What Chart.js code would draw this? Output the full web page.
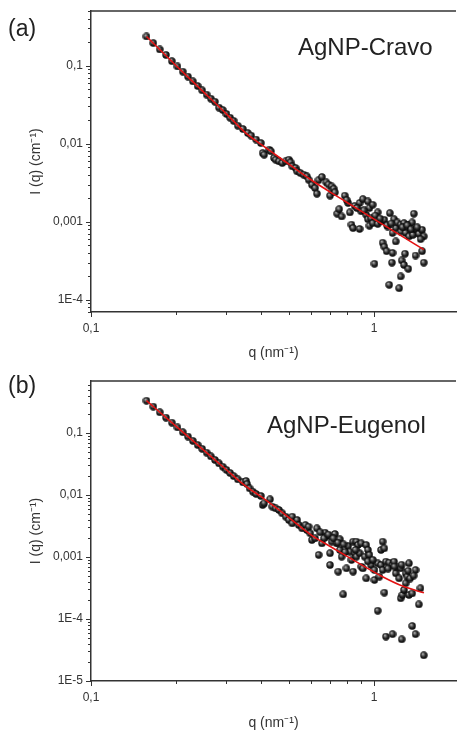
<!DOCTYPE html>
<html>
<head>
<meta charset="utf-8">
<title>AgNP SAXS curves</title>
<script src="https://cdn.jsdelivr.net/npm/chart.js@4.4.1/dist/chart.umd.min.js"></script>
<style>
    html, body { margin: 0; padding: 0; background: #fff; overflow: hidden; }
    .panel { position: relative; width: 461px; height: 365px; }
    canvas { display: block; }
</style>
</head>
<body>
<div class="panel"><canvas id="chartA" width="461" height="365"></canvas></div>
<div class="panel"><canvas id="chartB" width="461" height="365"></canvas></div>
<script>
// ---- data ----

// x axis ticks (both panels)
const xTickValues = [0.1, 1];
const xTickLabels = ["0,1", "1"];

// y axis ticks
const yTickValuesA = [0.1, 0.01, 0.001, 1e-4];
const yTickLabelsA = ["0,1", "0,01", "0,001", "1E-4"];
const yTickValuesB = [0.1, 0.01, 0.001, 1e-4, 1e-5];
const yTickLabelsB = ["0,1", "0,01", "0,001", "1E-4", "1E-5"];

// (a) AgNP-Cravo : measured points
const qA = [
    0.157, 0.166, 0.175, 0.184, 0.193, 0.202, 0.211, 0.220, 0.229, 0.238,
    0.247, 0.256, 0.265, 0.274, 0.283, 0.292, 0.301, 0.310, 0.319,
    0.330, 0.344, 0.358, 0.368, 0.383, 0.398, 0.404, 0.409, 0.426, 0.432,
    0.443, 0.449, 0.461, 0.474, 0.487, 0.500, 0.507, 0.514, 0.528, 0.535,
    0.549, 0.564, 0.579, 0.587, 0.603, 0.619,
    0.628, 0.636, 0.654, 0.678, 0.690, 0.699, 0.708, 0.713, 0.720, 0.727,
    0.741, 0.753, 0.768, 0.788, 0.810, 0.821, 0.832, 0.843, 0.854, 0.889,
    0.889, 0.901, 0.913, 0.938, 0.951, 0.951, 0.963, 0.963, 0.976, 0.989,
    0.989, 1.003, 1.030, 1.030, 1.058, 1.072, 1.087, 1.087, 1.107, 1.116,
    1.131, 1.137, 1.156, 1.162, 1.162, 1.177, 1.193, 1.193, 1.209, 1.226,
    1.242, 1.242, 1.242, 1.252, 1.276, 1.276, 1.286, 1.293, 1.293, 1.321,
    1.328, 1.328, 1.364, 1.371, 1.382, 1.401, 1.401, 1.439, 1.478, 1.478,
    1.498, 1.498,
    0.800, 0.870, 0.920, 1.010, 1.050, 1.110, 1.150, 1.260, 1.310, 1.350,
    1.420, 1.460
];
const intensityA = [
    0.236, 0.194, 0.161, 0.137, 0.114, 0.0975, 0.0836, 0.0723, 0.0628, 0.0548,
    0.0482, 0.0425, 0.0377, 0.0345, 0.0290, 0.0270, 0.0240, 0.0215, 0.0196,
    0.0170, 0.0154, 0.0137, 0.0127, 0.0113, 0.0102, 0.00759, 0.00723, 0.00838, 0.00798,
    0.00655, 0.00624, 0.00594, 0.00565, 0.00594, 0.00624, 0.00577, 0.00513, 0.00488, 0.00442,
    0.00421, 0.00401, 0.00381, 0.00346, 0.00298, 0.00270,
    0.00229, 0.00340, 0.00374, 0.00320, 0.00300, 0.00216, 0.00284, 0.00252, 0.00265, 0.00238,
    0.00127, 0.00145, 0.00117, 0.00216, 0.00174, 0.00132, 0.00092, 0.00083, 0.00160, 0.00174,
    0.00081, 0.00136, 0.00195, 0.00123, 0.00182, 0.00108, 0.00150, 0.00089, 0.00111, 0.00165,
    0.00096, 0.00029, 0.00132, 0.00094, 0.00101, 0.00054, 0.00106, 0.00048, 0.00042, 0.00087,
    0.000156, 0.00129, 0.00030, 0.00072, 0.00040, 0.00108, 0.00083, 0.00056, 0.00098, 0.000141,
    0.00092, 0.00075, 0.00020, 0.00032, 0.00096, 0.00028, 0.00039, 0.00083, 0.00072, 0.00025,
    0.00092, 0.00065, 0.00098, 0.00068, 0.00127, 0.00081, 0.00037, 0.00070, 0.00079, 0.00042,
    0.00065, 0.00030,
    0.00190, 0.00150, 0.00140, 0.00120, 0.00110, 0.00090, 0.00095, 0.00085, 0.00090, 0.00080,
    0.00085, 0.00060
];

// (a) fitted curve
const fitQA = [0.157, 0.2, 0.25, 0.3, 0.35, 0.4, 0.5, 0.6, 0.7, 0.8, 0.9, 1.0, 1.2, 1.5];
const fitIA = [0.236, 0.0995, 0.0458, 0.0243, 0.0140, 0.0097, 0.00547, 0.00343, 0.00240, 0.00178, 0.00137, 0.00108, 0.00072, 0.00044];

// (b) AgNP-Eugenol : measured points
const qB = [
    0.157, 0.166, 0.175, 0.184, 0.193, 0.202, 0.211, 0.220, 0.229, 0.238,
    0.247, 0.256, 0.265, 0.274, 0.283, 0.292, 0.301, 0.310, 0.319,
    0.330, 0.344, 0.353, 0.356, 0.363, 0.373, 0.383, 0.398, 0.404, 0.409,
    0.429, 0.437, 0.449, 0.461, 0.474, 0.487, 0.500, 0.514, 0.514, 0.535,
    0.542, 0.557, 0.572, 0.579, 0.587, 0.595, 0.603, 0.619,
    0.628, 0.637, 0.654, 0.671, 0.676, 0.699, 0.699, 0.708, 0.727, 0.737,
    0.747, 0.757, 0.757, 0.768, 0.778, 0.799, 0.810, 0.821, 0.832, 0.843,
    0.843, 0.854, 0.866, 0.866, 0.877, 0.889, 0.901, 0.901, 0.913, 0.926,
    0.938, 0.938, 0.951, 0.963, 0.976, 1.003, 1.003, 1.030, 1.030, 1.044,
    1.058, 1.058, 1.072, 1.072, 1.087, 1.087, 1.101, 1.101, 1.131, 1.162,
    1.162, 1.177, 1.193, 1.209, 1.226, 1.242, 1.242, 1.252, 1.259, 1.276,
    1.293, 1.293, 1.310, 1.328, 1.328, 1.364, 1.364, 1.401, 1.401, 1.439,
    1.458, 1.498,
    0.645, 0.665, 0.690, 0.718, 0.745, 0.780, 0.790, 0.860, 0.950, 0.990,
    1.120, 1.180, 1.250, 1.320, 1.340, 1.380
];
const intensityB = [
    0.332, 0.266, 0.216, 0.177, 0.147, 0.123, 0.103, 0.0877, 0.0748, 0.0643,
    0.0555, 0.0482, 0.0420, 0.0368, 0.0324, 0.0286, 0.0254, 0.0226, 0.0202,
    0.0179, 0.0160, 0.0168, 0.0150, 0.0128, 0.0113, 0.0104, 0.00964, 0.00689, 0.00733,
    0.00851, 0.00648, 0.00609, 0.00573, 0.00506, 0.00447, 0.00395, 0.00447, 0.00349, 0.00395,
    0.00328, 0.00290, 0.00328, 0.00272, 0.00308, 0.00241, 0.00188, 0.00200,
    0.00290, 0.00108, 0.00166, 0.00247, 0.00213, 0.00115, 0.000743, 0.00177, 0.00235, 0.00166,
    0.000580, 0.00193, 0.00130, 0.00101, 0.000250, 0.000656, 0.00150, 0.00122, 0.000895, 0.00177,
    0.000580, 0.00115, 0.00177, 0.00101, 0.00156, 0.00115, 0.00166, 0.000698, 0.000656, 0.00101,
    0.00156, 0.000453, 0.00130, 0.00108, 0.000743, 0.000617, 0.000426, 0.000791, 0.000136, 0.000482,
    0.000743, 0.00130, 0.00177, 0.000617, 0.00138, 0.000266, 0.000841, 0.000052, 0.000811, 0.000743,
    0.000057, 0.000841, 0.000545, 0.000698, 0.000453, 0.000656, 0.000216, 0.000047, 0.000244, 0.000294,
    0.000545, 0.000376, 0.000482, 0.000791, 0.000244, 0.000259, 0.000077, 0.000617, 0.000057, 0.000172,
    0.000313, 0.000026,
    0.00250, 0.00200, 0.00230, 0.00200, 0.00170, 0.00160, 0.00120, 0.00130, 0.00085, 0.00090,
    0.00065, 0.00070, 0.00075, 0.00060, 0.00045, 0.00050
];

// (b) fitted curve
const fitQB = [0.157, 0.2, 0.25, 0.3, 0.35, 0.4, 0.5, 0.6, 0.7, 0.82, 1.072, 1.259, 1.5];
const fitIB = [0.332, 0.128, 0.053, 0.0258, 0.0142, 0.0093, 0.00433, 0.00225, 0.00148, 0.00097, 0.00048, 0.00034, 0.000265];

// ---- drawing ----
const FONT = '"Liberation Sans", Arial, sans-serif';
const AXIS_COLOR = "#333";

// shaded black sphere used as the point marker
function makeBall(d) {
    const c = document.createElement("canvas");
    c.width = d;
    c.height = d;
    const g = c.getContext("2d");
    const r = d / 2;
    const grad = g.createRadialGradient(r * 0.7, r * 0.65, 0, r, r, r);
    grad.addColorStop(0, "#e6e6e6");
    grad.addColorStop(0.25, "#777");
    grad.addColorStop(0.6, "#222");
    grad.addColorStop(1, "#000");
    g.fillStyle = grad;
    g.beginPath();
    g.arc(r, r, r - 0.3, 0, Math.PI * 2);
    g.fill();
    return c;
}

const isPow10 = v => Math.abs(Math.log10(v) - Math.round(Math.log10(v))) < 1e-9;

// frame line on top, major/minor tick marks, panel letter and sample name
const panelDecor = {
    id: "panelDecor",
    afterDraw(chart, args, opts) {
        const { ctx, chartArea } = chart;
        const xs = chart.scales.x;
        const ys = chart.scales.y;
        ctx.save();
        ctx.strokeStyle = AXIS_COLOR;
        ctx.lineWidth = 1.5;
        ctx.beginPath();
        ctx.moveTo(chartArea.left, chartArea.top);
        ctx.lineTo(chartArea.right, chartArea.top);
        ctx.stroke();

        ctx.lineWidth = 1;
        ctx.beginPath();
        // 1..9 x 10^n on each axis
        for (let e = Math.floor(Math.log10(xs.min)); e <= Math.ceil(Math.log10(xs.max)); e++) {
            for (let m = 1; m <= 9; m++) {
                const v = m * Math.pow(10, e);
                if (v < xs.min * 0.999 || v > xs.max) continue;
                const px = Math.round(xs.getPixelForValue(v)) + 0.5;
                const len = isPow10(v) ? 5 : 3;
                ctx.moveTo(px, chartArea.bottom);
                ctx.lineTo(px, chartArea.bottom + len);
            }
        }
        for (let e = Math.floor(Math.log10(ys.min)); e <= Math.ceil(Math.log10(ys.max)); e++) {
            for (let m = 1; m <= 9; m++) {
                const v = m * Math.pow(10, e);
                if (v < ys.min * 0.999 || v > ys.max) continue;
                const py = Math.round(ys.getPixelForValue(v)) + 0.5;
                const len = isPow10(v) ? 5 : 3;
                ctx.moveTo(chartArea.left - len, py);
                ctx.lineTo(chartArea.left, py);
            }
        }
        ctx.stroke();

        ctx.fillStyle = "#222";
        ctx.font = "23px " + FONT;
        ctx.textBaseline = "middle";
        ctx.fillText(opts.tag, 8, opts.tagY);
        ctx.font = "24px " + FONT;
        ctx.textBaseline = "alphabetic";
        ctx.fillText(opts.name, opts.nameX, opts.nameY);
        ctx.restore();
    }
};

const ball = makeBall(8);

function labelFor(values, labels, v) {
    const i = values.findIndex(t => Math.abs(Math.log10(t) - Math.log10(v)) < 1e-6);
    return i >= 0 ? labels[i] : "";
}

function makeChart(canvasId, q, intensity, fitQ, fitI, yValues, yLabels, cfg) {
    const ctx = document.getElementById(canvasId).getContext("2d");
    return new Chart(ctx, {
        type: "scatter",
        data: {
            datasets: [
                {
                    label: "fit",
                    data: fitQ.map((x, i) => ({ x: x, y: fitI[i] })),
                    showLine: true,
                    borderColor: "#e31212",
                    borderWidth: 1.6,
                    pointRadius: 0,
                    pointHoverRadius: 0,
                    cubicInterpolationMode: "monotone"
                },
                {
                    label: "data",
                    data: q.map((x, i) => ({ x: x, y: intensity[i] })),
                    pointStyle: ball,
                    pointRadius: 4,
                    pointHoverRadius: 4
                }
            ]
        },
        options: {
            responsive: false,
            animation: false,
            events: [],
            layout: { padding: { top: cfg.top, right: 0, bottom: 0, left: 0 } },
            plugins: {
                legend: { display: false },
                tooltip: { enabled: false },
                panelDecor: { tag: cfg.tag, tagY: cfg.tagY, name: cfg.name, nameX: cfg.nameX, nameY: cfg.nameY }
            },
            scales: {
                x: {
                    type: "logarithmic",
                    position: "bottom",
                    min: 0.1,
                    max: 1.947,
                    afterBuildTicks: axis => { axis.ticks = xTickValues.map(v => ({ value: v })); },
                    afterFit: axis => { axis.height = cfg.xAxisHeight; },
                    grid: { display: false, drawTicks: true, tickLength: 5 },
                    border: { display: true, color: AXIS_COLOR, width: 1.5 },
                    ticks: {
                        autoSkip: false,
                        maxRotation: 0,
                        padding: 4,
                        color: "#333",
                        font: { family: FONT, size: 12 },
                        callback: v => labelFor(xTickValues, xTickLabels, v)
                    },
                    title: {
                        display: true,
                        text: "q (nm\u207B\u00B9)",
                        color: "#333",
                        font: { family: FONT, size: 14, lineHeight: 1 },
                        padding: { top: 0, bottom: cfg.xTitlePad }
                    }
                },
                y: {
                    type: "logarithmic",
                    position: "left",
                    min: cfg.yMin,
                    max: cfg.yMax,
                    afterBuildTicks: axis => { axis.ticks = yValues.map(v => ({ value: v })); },
                    afterFit: axis => { axis.width = 91; },
                    grid: { display: false, drawTicks: true, tickLength: 5 },
                    border: { display: true, color: AXIS_COLOR, width: 1.5 },
                    ticks: {
                        autoSkip: false,
                        padding: 3,
                        color: "#333",
                        font: { family: FONT, size: 12 },
                        callback: v => labelFor(yValues, yLabels, v)
                    },
                    title: {
                        display: true,
                        text: "I (q) (cm\u207B\u00B9)",
                        color: "#333",
                        font: { family: FONT, size: 14, lineHeight: 1 },
                        padding: { top: 29, bottom: 0 }
                    }
                }
            }
        },
        plugins: [panelDecor]
    });
}

document.addEventListener("DOMContentLoaded", function () {
    makeChart("chartA", qA, intensityA, fitQA, fitIA, yTickValuesA, yTickLabelsA, {
        yMin: 7e-5, yMax: 0.5, top: 11, xAxisHeight: 53, xTitlePad: 5,
        tag: "(a)", tagY: 30, name: "AgNP-Cravo", nameX: 298, nameY: 55
    });
    makeChart("chartB", qB, intensityB, fitQB, fitIB, yTickValuesB, yTickLabelsB, {
        yMin: 1e-5, yMax: 0.69, top: 16, xAxisHeight: 49, xTitlePad: 0,
        tag: "(b)", tagY: 22, name: "AgNP-Eugenol", nameX: 267, nameY: 68
    });
});
</script>
</body>
</html>
